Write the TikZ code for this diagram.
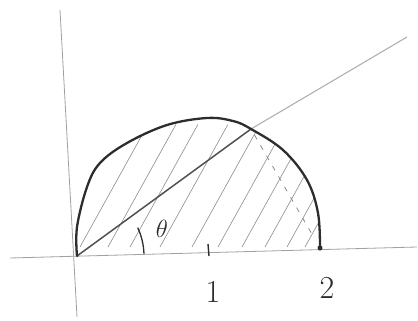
\documentclass[tikz,border=0pt]{standalone}
\usetikzlibrary{calc}
\definecolor{axisgray}{RGB}{160,160,160}
\definecolor{hatchgray}{RGB}{140,140,140}
\definecolor{inkdark}{RGB}{45,45,45}
\definecolor{raydark}{RGB}{80,80,80}
\definecolor{raylight}{RGB}{175,175,175}
\tikzset{
  axisline/.style={draw=axisgray, line width=0.8pt},
  curveline/.style={draw=inkdark, line width=2.3pt, line cap=round},
  hatchline/.style={draw=hatchgray, line width=0.6pt},
  raystrong/.style={draw=raydark, line width=1.5pt},
  rayweak/.style={draw=raylight, line width=1.1pt},
  dashline/.style={draw=hatchgray, line width=0.8pt, dash pattern=on 5pt off 7pt},
  numlabel/.style={inner sep=0pt, text=inkdark, font=\fontsize{32}{32}\selectfont},
  anglabel/.style={inner sep=0pt, text=inkdark, font=\fontsize{26}{26}\selectfont}
}
\begin{document}
\begin{tikzpicture}[x=1pt, y=-1pt]
\useasboundingbox (0,0) rectangle (418,321);
% key points
\coordinate (O) at (77,256);
\coordinate (P) at (320,248);
\coordinate (I) at (251,129);
\coordinate (R) at (407,37);
% axes
\draw[axisline] (10,258) -- (417,247);
\draw[axisline] (60,10) -- (77,317);
% hatching
\begin{scope}
  \clip plot[smooth, tension=0.6] coordinates {(77,256) (77,227) (87,187) (100,163) (127,143) (167,125) (207,118) (233,121) (251,129) (283,150) (307,180) (318,213) (320,248)} -- cycle;
  \foreach \xo in {80,108,130,160,192,218,242,265,287,305} {
    \draw[hatchline] (\xo,247) -- ++(-61:140);
  }
\end{scope}
% ray
\draw[raystrong] (O) -- (I);
\draw[rayweak] (I) -- (R);
% dashed chord to (2,0)
\draw[dashline] ($(I)!0.05!(P)$) -- ($(I)!0.88!(P)$);
% half circle
\draw[curveline] plot[smooth, tension=0.6] coordinates {(77,256) (77,227) (87,187) (100,163) (127,143) (167,125) (207,118) (233,121) (251,129) (283,150) (307,180) (318,213) (320,248)};
\fill[inkdark] (P) circle (2.5);
% tick at 1
\draw[draw=inkdark, line width=1.4pt] (208,244) -- (209,256);
% angle arc
\draw[draw=inkdark, line width=1.3pt] (O) ++(-2:67) arc[start angle=-2, end angle=-25, radius=67];
% labels
\node[anglabel] (theta) at (162,229) {$\theta$};
\node[numlabel] (one) at (213,292) {1};
\node[numlabel] (two) at (327,288) {2};
\end{tikzpicture}
\end{document}
